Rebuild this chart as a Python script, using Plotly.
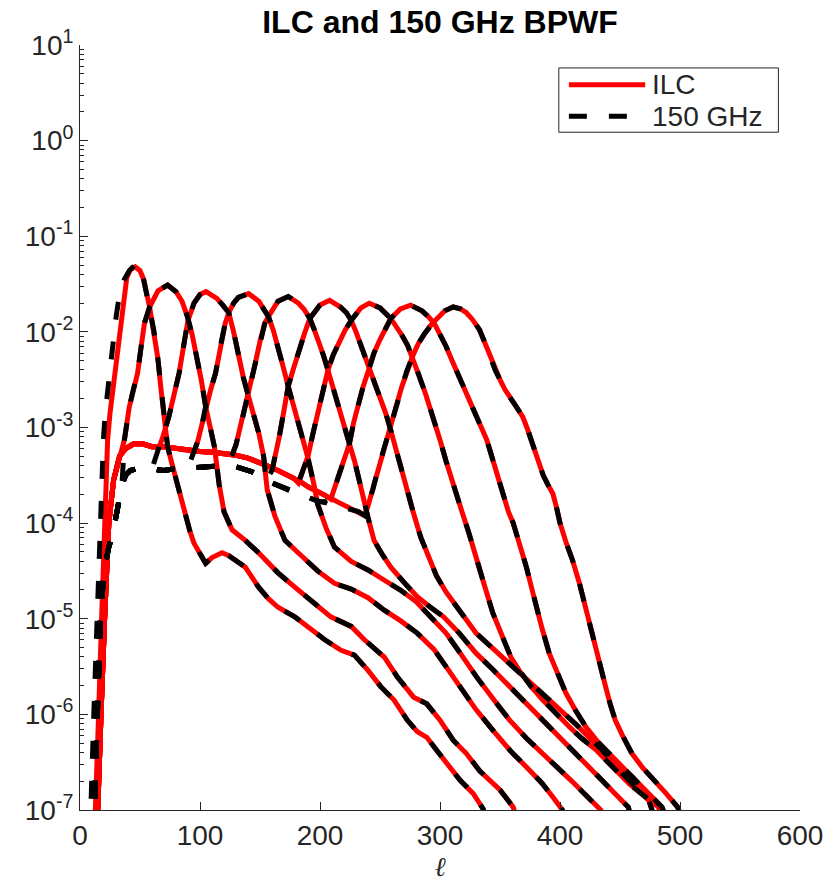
import plotly.graph_objects as go

# ---------------- data (log10 of the window function) -------------
# low-ell rise shared by bins 2..9
rise_ell_ilc = [14, 15, 17.5, 20.5, 24, 28, 33]
rise_log_ilc = [-7.3, -7.0, -6.0, -5.0, -4.0, -3.55, -3.3]
rise_ell_150 = [10.5, 12, 14.5, 17, 20, 24, 27.5, 30, 33, 35, 38]
rise_log_150 = [-7.3, -7.0, -6.0, -5.0, -4.5, -4.25, -4.1, -3.93, -3.75, -3.6, -3.5]

# shared low-ell plateau
plat_ell_ilc = [38, 45, 52, 60, 70, 80, 90, 100, 110, 120, 130, 140, 147, 152, 158, 165, 172,
                178, 184, 190, 197, 203, 209, 215, 221, 226, 232]
plat_log_ilc = [-3.22, -3.17, -3.17, -3.2, -3.2, -3.22, -3.24, -3.25, -3.26, -3.27, -3.29, -3.32,
                -3.35, -3.38, -3.41, -3.45, -3.49, -3.53, -3.57, -3.62, -3.66, -3.7, -3.74, -3.78,
                -3.82, -3.85, -3.88]
plat_ell_150 = [42, 50, 60, 70, 80, 90, 100, 110, 120, 130, 137, 143, 149, 155, 162, 168, 174,
                180, 186, 192, 198, 203, 209, 215, 221, 226, 232]
plat_log_150 = [-3.45, -3.42, -3.43, -3.45, -3.43, -3.42, -3.41, -3.40, -3.40, -3.41, -3.43,
                -3.46, -3.5, -3.55, -3.59, -3.62, -3.66, -3.69, -3.72, -3.74, -3.77, -3.78, -3.8,
                -3.82, -3.84, -3.86, -3.88]

# first bin: separate rising edges for the two maps
bin1_ell_ilc = [12, 13, 15.5, 18, 20.5, 23, 25, 27.5, 30, 33, 36, 39, 42, 46, 50]
bin1_log_ilc = [-7.3, -7.0, -6.0, -5.0, -4.0, -3.13, -2.85, -2.61, -2.35, -2.09, -1.72, -1.43,
                -1.35, -1.32, -1.36]
bin1_ell_150 = [7.5, 9, 11.5, 14, 17, 19.5, 21, 23, 25, 27, 30, 33, 37, 41, 45, 49, 51]
bin1_log_150 = [-7.3, -7.0, -6.0, -5.0, -4.0, -3.13, -2.85, -2.61, -2.35, -2.1, -1.85, -1.6,
                -1.45, -1.36, -1.31, -1.28, -1.34]

# shared part of each bin (valley -> peak -> tail)
main_ell = [
    [53, 58, 61.5, 64.7, 67.5, 70, 73, 76, 78, 80, 84, 88, 91.5, 95, 100.5, 104.7, 110, 118.4, 124,
     129.5, 137.7, 143, 148.8, 157, 165, 179, 193, 204, 217.6, 228.7, 240, 250.6, 261.7, 272.7,
     281, 289, 297.5, 305.8, 316.8, 327.8, 336, 341],
    [37, 41, 44.5, 48, 51, 53.7, 58, 65, 73, 80, 85, 89.5, 93.5, 97.5, 101, 104.7, 109, 112, 116,
     120, 126.7, 137.7, 148.8, 165, 179, 193, 209, 226, 237, 253.5, 264.5, 278, 289, 300, 311,
     322, 333, 350, 361, 366],
    [66, 69, 74, 78, 82.6, 87, 90, 95, 100, 105, 114, 119, 124, 128, 132, 136, 140.5, 145, 149,
     153, 156, 162.5, 170.8, 181.8, 198, 212, 226, 240, 253.5, 267, 281, 295, 305, 318, 330, 345,
     360, 372, 385, 395, 402, 406],
    [95, 98, 101.5, 104.7, 109, 113, 117, 121, 124, 128, 132, 140.5, 149, 157, 161, 165, 169,
     173.5, 178, 182, 186, 190, 195, 198, 205, 212, 226, 240, 254, 267, 280, 292, 305, 318, 330,
     345, 358, 372, 386, 398, 410, 422, 434, 438],
    [127, 130, 134.5, 139, 142.5, 146, 150, 154, 157, 161, 165, 173.5, 182, 187, 191.5, 195, 199,
     203, 206.6, 211, 216, 220, 224.5, 229, 233, 237, 240, 245, 252, 259, 270, 281, 292, 303, 316,
     330, 344, 358, 372, 386, 400, 413, 424, 435, 446, 457, 461],
    [160, 163, 166, 170, 173.5, 178, 182, 187, 191.5, 196, 200, 208, 217, 222, 226, 230, 233, 237,
     241, 246, 250, 255, 259, 263, 268, 273, 278, 284, 290, 297, 305, 318, 330, 344, 358, 372, 386,
     400, 413, 424, 435, 444, 452, 463, 474, 482],
    [182, 186, 190, 194, 198, 202, 206.6, 211, 216, 221, 226, 234, 241, 250, 259, 264, 268, 273,
     277, 282, 288, 294, 300, 305, 309, 313, 317, 324, 330.6, 337, 344, 352.6, 359, 366, 376,
     385.7, 396, 407.7, 418, 430, 440, 449, 458, 468, 482, 488],
    [209, 213, 216, 220, 224.5, 228, 232, 236, 241, 245, 250, 254, 259, 267, 275.5, 285, 291, 296,
     300, 305, 310, 315, 322, 330.6, 339, 343, 347, 352.6, 357, 361, 366, 372, 376, 380, 385, 391,
     398, 405, 413, 421.5, 431, 440.5, 452, 463, 474, 485, 492],
    [237, 240, 244, 248, 252, 255, 259, 263, 268, 272, 277, 282, 287, 291, 296, 304, 311, 317, 322,
     327, 333, 337, 341.6, 346, 350, 354, 358, 363, 369, 373, 377.6, 382, 386, 390, 394, 397, 400,
     405, 410.5, 416, 421.5, 426, 430, 434, 438, 442, 446, 452, 460, 469, 479, 488, 498, 505],
]
main_log = [
    [-1.45, -1.74, -1.98, -2.26, -2.6, -2.92, -3.2, -3.35, -3.45, -3.55, -3.75, -3.93, -4.08,
     -4.21, -4.33, -4.42, -4.36, -4.31, -4.34, -4.39, -4.46, -4.56, -4.67, -4.79, -4.88, -4.98,
     -5.12, -5.22, -5.33, -5.38, -5.54, -5.71, -5.85, -6.06, -6.18, -6.24, -6.38, -6.52, -6.69,
     -6.83, -6.99, -7.2],
    [-3.13, -2.79, -2.6, -2.43, -2.15, -1.91, -1.74, -1.57, -1.51, -1.58, -1.68, -1.84, -2.03,
     -2.26, -2.5, -2.78, -3.0, -3.2, -3.6, -3.88, -4.07, -4.18, -4.31, -4.52, -4.67, -4.81, -4.98,
     -5.08, -5.22, -5.40, -5.61, -5.82, -5.89, -6.06, -6.27, -6.41, -6.59, -6.79, -6.97, -7.2],
    [-3.2, -3.1, -2.89, -2.68, -2.43, -2.1, -1.88, -1.7, -1.61, -1.58, -1.65, -1.72, -1.80, -2.0,
     -2.26, -2.47, -2.68, -2.88, -3.06, -3.3, -3.65, -3.93, -4.18, -4.31, -4.50, -4.63, -4.69,
     -4.78, -4.91, -5.02, -5.15, -5.32, -5.5, -5.72, -5.95, -6.18, -6.4, -6.55, -6.72, -6.88, -7.0,
     -7.2],
    [-3.25, -3.15, -2.98, -2.78, -2.6, -2.43, -2.15, -1.91, -1.80, -1.7, -1.64, -1.60, -1.68,
     -1.84, -1.98, -2.15, -2.35, -2.57, -2.77, -2.95, -3.13, -3.32, -3.6, -3.8, -4.05, -4.25, -4.4,
     -4.49, -4.6, -4.70, -4.82, -4.97, -5.15, -5.38, -5.6, -5.85, -6.06, -6.25, -6.41, -6.56, -6.7,
     -6.85, -7.0, -7.2],
    [-3.28, -3.18, -2.95, -2.71, -2.52, -2.33, -2.1, -1.91, -1.84, -1.75, -1.68, -1.63, -1.7,
     -1.77, -1.86, -1.97, -2.1, -2.25, -2.40, -2.6, -2.8, -2.98, -3.17, -3.36, -3.55, -3.78, -3.94,
     -4.18, -4.33, -4.46, -4.62, -4.77, -4.88, -4.98, -5.15, -5.36, -5.53, -5.71, -5.89, -6.06,
     -6.24, -6.41, -6.55, -6.69, -6.83, -6.97, -7.2],
    [-3.45, -3.3, -3.1, -2.82, -2.57, -2.38, -2.2, -2.02, -1.86, -1.78, -1.72, -1.67, -1.74, -1.8,
     -1.88, -2.0, -2.1, -2.23, -2.38, -2.55, -2.7, -2.86, -3.03, -3.22, -3.45, -3.68, -3.9, -4.15,
     -4.35, -4.55, -4.72, -4.95, -5.15, -5.31, -5.47, -5.63, -5.78, -5.94, -6.10, -6.24, -6.37,
     -6.5, -6.62, -6.76, -6.90, -7.2],
    [-3.58, -3.45, -3.30, -3.07, -2.85, -2.62, -2.40, -2.24, -2.1, -1.98, -1.88, -1.75, -1.70,
     -1.75, -1.86, -1.95, -2.03, -2.14, -2.26, -2.44, -2.65, -2.88, -3.13, -3.35, -3.52, -3.68,
     -3.83, -4.1, -4.36, -4.65, -4.94, -5.22, -5.4, -5.54, -5.71, -5.85, -5.99, -6.13, -6.25,
     -6.37, -6.5, -6.62, -6.73, -6.83, -6.97, -7.2],
    [-3.75, -3.6, -3.48, -3.32, -3.17, -2.95, -2.75, -2.57, -2.38, -2.22, -2.08, -1.97, -1.86,
     -1.76, -1.72, -1.78, -1.85, -1.93, -2.02, -2.15, -2.3, -2.45, -2.65, -2.89, -3.13, -3.3,
     -3.48, -3.72, -3.88, -4.0, -4.2, -4.46, -4.66, -4.88, -5.1, -5.36, -5.58, -5.78, -5.96,
     -6.13, -6.28, -6.41, -6.55, -6.69, -6.83, -6.97, -7.2],
    [-3.92, -3.82, -3.65, -3.45, -3.28, -3.15, -3.0, -2.8, -2.58, -2.42, -2.26, -2.12, -2.02,
     -1.95, -1.88, -1.78, -1.74, -1.76, -1.80, -1.87, -1.98, -2.1, -2.26, -2.4, -2.50, -2.6,
     -2.68, -2.77, -2.89, -3.02, -3.2, -3.35, -3.5, -3.6, -3.69, -3.83, -4.0, -4.2, -4.39, -4.62,
     -4.88, -5.12, -5.33, -5.52, -5.71, -5.9, -6.06, -6.22, -6.41, -6.56, -6.69, -6.82, -6.97,
     -7.2],
]

x_ticks = [0, 100, 200, 300, 400, 500, 600]
y_exponents = [-7, -6, -5, -4, -3, -2, -1, 0, 1]
title_text = "ILC and 150 GHz BPWF"
legend_labels = ["ILC", "150 GHz"]

# ---------------- assemble the curves -------------------------------------------------
RED = "#ff0000"
BLACK = "#000000"
DASH = "18px,22px"
LW = 5


def build(bin_idx, rise_e, rise_v, plat_e, plat_v, first_e, first_v):
    me, mv = main_ell[bin_idx], main_log[bin_idx]
    if bin_idx == 0:
        e = list(first_e) + me
        v = list(first_v) + mv
    else:
        start = me[0]
        e = [a for a in rise_e if a < start] + [a for a in plat_e if a < start] + me
        v = ([b for a, b in zip(rise_e, rise_v) if a < start]
             + [b for a, b in zip(plat_e, plat_v) if a < start] + mv)
    return e, [10 ** b for b in v]


fig = go.Figure()
for i in range(len(main_ell)):
    e, v = build(i, rise_ell_ilc, rise_log_ilc, plat_ell_ilc, plat_log_ilc,
                 bin1_ell_ilc, bin1_log_ilc)
    fig.add_trace(go.Scatter(x=e, y=v, mode="lines", line=dict(color=RED, width=LW),
                             showlegend=False, hoverinfo="skip"))
for i in range(len(main_ell)):
    e, v = build(i, rise_ell_150, rise_log_150, plat_ell_150, plat_log_150,
                 bin1_ell_150, bin1_log_150)
    fig.add_trace(go.Scatter(x=e, y=v, mode="lines",
                             line=dict(color=BLACK, width=LW, dash=DASH),
                             showlegend=False, hoverinfo="skip"))

FONT = "Liberation Sans, Arial, Helvetica, sans-serif"
AX = "#262626"

minor_vals = [m * 10.0 ** p for p in range(-7, 1) for m in range(2, 10)]

fig.update_layout(
    width=835, height=886,
    margin=dict(l=80, r=29, t=45, b=76),
    paper_bgcolor="white", plot_bgcolor="white",
    font=dict(family=FONT, size=28, color=AX),
    title=dict(text="<b>" + title_text + "</b>", x=0.5, xref="paper", xanchor="center",
               y=1 - 22 / 886, yref="container", yanchor="middle",
               font=dict(family=FONT, size=32, color="black")),
    xaxis=dict(range=[0, 600], tickvals=x_ticks, ticktext=[str(t) for t in x_ticks],
               ticks="inside", ticklen=8, tickwidth=1, tickcolor=AX,
               showline=True, linecolor=AX, linewidth=1, mirror=False,
               showgrid=False, zeroline=False,
               title=dict(text="<i>ℓ</i>", standoff=2,
                          font=dict(family="DejaVu Serif, serif", size=27, color=AX))),
    yaxis=dict(type="log", range=[-7, 1],
               tickvals=[10.0 ** p for p in y_exponents],
               ticktext=["10<sup>%d</sup>" % p for p in y_exponents],
               ticks="inside", ticklen=8, tickwidth=1, tickcolor=AX,
               showline=True, linecolor=AX, linewidth=1, mirror=False,
               showgrid=False, zeroline=False,
               minor=dict(tickvals=minor_vals, ticks="inside", ticklen=4, tickcolor=AX,
                          showgrid=False)),
)

# legend drawn as a box with line samples
lx0, lx1, ly0, ly1 = 0.665, 0.970, 0.886, 0.970
fig.add_shape(type="rect", xref="paper", yref="paper", x0=lx0, x1=lx1, y0=ly0, y1=ly1,
              line=dict(color=AX, width=1), fillcolor="white", layer="above")
fig.add_shape(type="line", xref="paper", yref="paper", x0=0.679, x1=0.785, y0=0.948, y1=0.948,
              line=dict(color=RED, width=LW), layer="above")
fig.add_shape(type="line", xref="paper", yref="paper", x0=0.679, x1=0.785, y0=0.907, y1=0.907,
              line=dict(color=BLACK, width=LW, dash=DASH), layer="above")
fig.add_annotation(xref="paper", yref="paper", x=0.792, y=0.948, xanchor="left",
                   yanchor="middle", text=legend_labels[0], showarrow=False,
                   font=dict(family=FONT, size=28, color=AX))
fig.add_annotation(xref="paper", yref="paper", x=0.792, y=0.907, xanchor="left",
                   yanchor="middle", text=legend_labels[1], showarrow=False,
                   font=dict(family=FONT, size=28, color=AX))

fig.write_html("out.html")
